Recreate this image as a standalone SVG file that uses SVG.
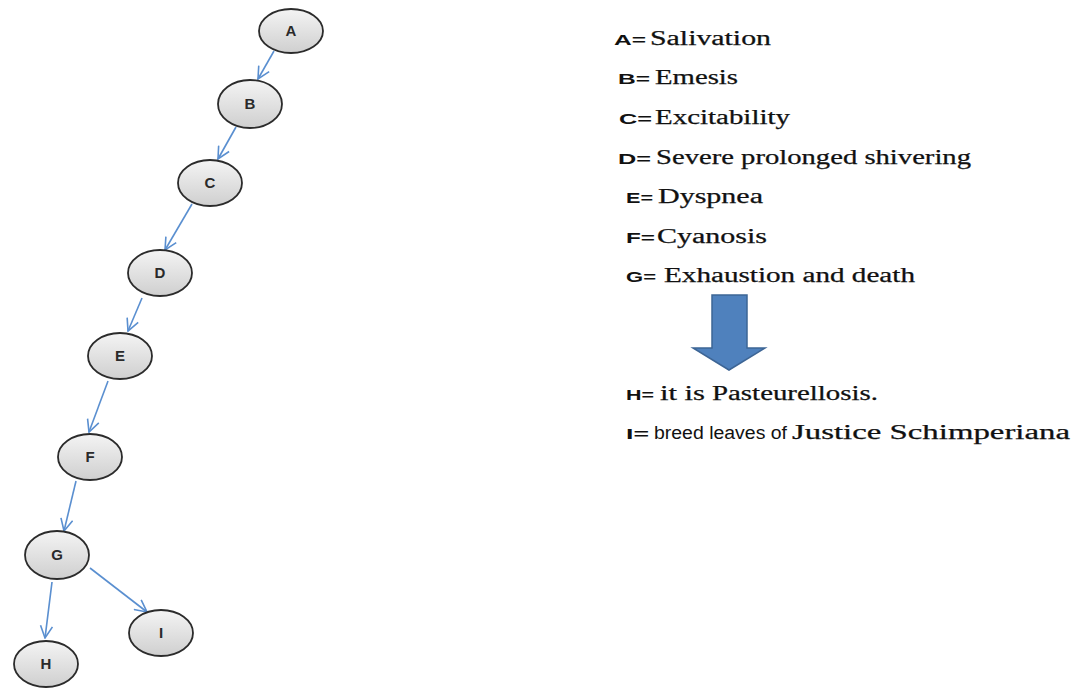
<svg xmlns="http://www.w3.org/2000/svg" width="1074" height="688" viewBox="0 0 1074 688">
<defs>
<linearGradient id="ng" x1="0" y1="0" x2="0" y2="1">
<stop offset="0" stop-color="#f4f4f4"/>
<stop offset="1" stop-color="#cfcfcf"/>
</linearGradient>
<marker id="ah" viewBox="0 0 14 14" refX="13" refY="7" markerWidth="14" markerHeight="14" markerUnits="userSpaceOnUse" orient="auto">
<path d="M1,1 L13,7 L1,13" fill="none" stroke="#5a8fd0" stroke-width="1.6"/>
</marker>
</defs>
<style>
.node ellipse{fill:url(#ng);stroke:#2b2b2b;stroke-width:1.8}
.node text{font-family:"Liberation Sans",Arial,sans-serif;font-weight:bold;font-size:15px;fill:#2a2a2a;text-anchor:middle}
.conn line{stroke:#5a8fd0;stroke-width:1.6;marker-end:url(#ah)}
.k{font-family:"Liberation Sans",Arial,sans-serif;font-weight:bold;font-size:15px;fill:#111}
.v{font-family:"Liberation Serif","Times New Roman",serif;font-size:20px;fill:#111;stroke:#111;stroke-width:0.25}
.s{font-family:"Liberation Sans",Arial,sans-serif;font-size:18px;fill:#111}
</style>
<rect width="1074" height="688" fill="#ffffff"/>
<g class="conn" id="connectors">
<line x1="274" y1="51" x2="258" y2="79"/>
<line x1="236" y1="127" x2="218" y2="159"/>
<line x1="192" y1="204" x2="165" y2="250"/>
<line x1="142" y1="298" x2="128" y2="331"/>
<line x1="108" y1="381" x2="89" y2="432"/>
<line x1="76" y1="481" x2="64" y2="531"/>
<line x1="52" y1="582" x2="45" y2="638"/>
<line x1="90" y1="568" x2="147" y2="612"/>
</g>
<g class="node" id="nA"><ellipse cx="291" cy="31" rx="32" ry="22"/><text x="291" y="36">A</text></g>
<g class="node" id="nB"><ellipse cx="250" cy="104" rx="32" ry="24"/><text x="250" y="109">B</text></g>
<g class="node" id="nC"><ellipse cx="210" cy="183" rx="32" ry="23"/><text x="210" y="188">C</text></g>
<g class="node" id="nD"><ellipse cx="160" cy="273" rx="32" ry="23"/><text x="160" y="278">D</text></g>
<g class="node" id="nE"><ellipse cx="120" cy="356" rx="32" ry="23"/><text x="120" y="361">E</text></g>
<g class="node" id="nF"><ellipse cx="90" cy="457" rx="32" ry="23"/><text x="90" y="462">F</text></g>
<g class="node" id="nG"><ellipse cx="57" cy="555" rx="32" ry="24"/><text x="57" y="560">G</text></g>
<g class="node" id="nH"><ellipse cx="46" cy="664" rx="32" ry="23"/><text x="46" y="669">H</text></g>
<g class="node" id="nI"><ellipse cx="161" cy="633" rx="32" ry="23"/><text x="161" y="638">I</text></g>
<g id="legend">
<text class="k" x="614" y="45" textLength="32" lengthAdjust="spacingAndGlyphs">A=</text>
<text class="v" x="650" y="45" textLength="121" lengthAdjust="spacingAndGlyphs">Salivation</text>
<text class="k" x="618" y="84" textLength="32" lengthAdjust="spacingAndGlyphs">B=</text>
<text class="v" x="655" y="84" textLength="83" lengthAdjust="spacingAndGlyphs">Emesis</text>
<text class="k" x="619" y="124" textLength="33" lengthAdjust="spacingAndGlyphs">C=</text>
<text class="v" x="655" y="124" textLength="135" lengthAdjust="spacingAndGlyphs">Excitability</text>
<text class="k" x="618" y="164" textLength="33" lengthAdjust="spacingAndGlyphs">D=</text>
<text class="v" x="656" y="164" textLength="315" lengthAdjust="spacingAndGlyphs">Severe prolonged shivering</text>
<text class="k" x="626" y="203" textLength="27" lengthAdjust="spacingAndGlyphs">E=</text>
<text class="v" x="658" y="203" textLength="105" lengthAdjust="spacingAndGlyphs">Dyspnea</text>
<text class="k" x="626" y="243" textLength="29" lengthAdjust="spacingAndGlyphs">F=</text>
<text class="v" x="657" y="243" textLength="110" lengthAdjust="spacingAndGlyphs">Cyanosis</text>
<text class="k" x="626" y="282" textLength="30" lengthAdjust="spacingAndGlyphs">G=</text>
<text class="v" x="664" y="282" textLength="251" lengthAdjust="spacingAndGlyphs">Exhaustion and death</text>
<text class="k" x="626" y="400" textLength="28" lengthAdjust="spacingAndGlyphs">H=</text>
<text class="v" x="660" y="400" textLength="45" lengthAdjust="spacingAndGlyphs">it is</text>
<text class="v" x="712" y="400" textLength="166" lengthAdjust="spacingAndGlyphs">Pasteurellosis.</text>
<text class="k" x="626" y="439" textLength="23" lengthAdjust="spacingAndGlyphs">I=</text>
<text class="s" x="654" y="439" textLength="133" lengthAdjust="spacingAndGlyphs">breed leaves of</text>
<text class="v" x="792" y="439" textLength="278" lengthAdjust="spacingAndGlyphs">Justice Schimperiana</text>
</g>
<g id="bigarrow">
<path d="M712,295 L747,295 L747,348 L765,348 L729,370 L693,348 L712,348 Z" fill="#4f81bd" stroke="#3d6595" stroke-width="1.5"/>
</g>
</svg>
